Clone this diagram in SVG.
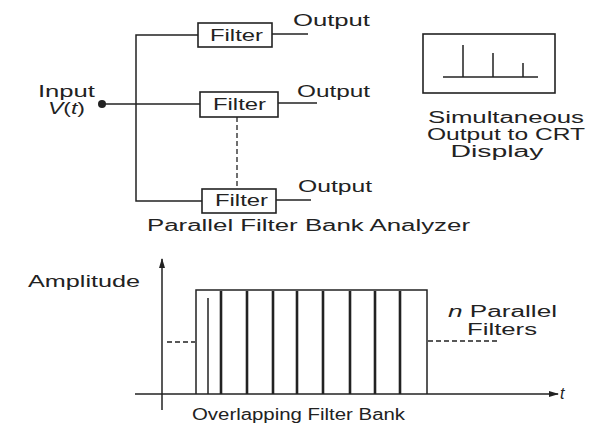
<svg xmlns="http://www.w3.org/2000/svg" width="590" height="425" viewBox="0 0 590 425">
<style>
.ln{stroke:#222;stroke-width:1.5;fill:none}
.bx{stroke:#222;stroke-width:1.6;fill:#fff}
.dash{stroke:#222;stroke-width:1.3;fill:none;stroke-dasharray:5 3}
.tx{font-family:"Liberation Sans",Arial,sans-serif;font-size:16px;fill:#222}
.bar{stroke:#222;stroke-width:2.6;fill:none}
</style>
<defs>
<marker id="ah" markerWidth="10" markerHeight="8" refX="9" refY="4" orient="auto" markerUnits="userSpaceOnUse">
<path d="M0,1 L10,4 L0,7 Z" fill="#222"/>
</marker>
</defs>
<rect width="590" height="425" fill="#fff"/>
<g id="connectors">
<path class="ln" d="M198,35 H136 V201 H202"/>
<path class="ln" d="M102,104 H200"/>
<path class="ln" d="M272,34 H308"/>
<path class="ln" d="M278,103 H317"/>
<path class="ln" d="M276,200 H311"/>
<path class="dash" d="M237,117 V190"/>
</g>
<g id="input">
<circle cx="102" cy="104" r="4" fill="#222"/>
<text class="tx" x="38" y="97" textLength="57" lengthAdjust="spacingAndGlyphs">Input</text>
<text class="tx" x="48" y="114" textLength="37" lengthAdjust="spacingAndGlyphs"><tspan font-style="italic">V</tspan>(<tspan font-style="italic">t</tspan>)</text>
</g>
<g id="filter1">
<rect class="bx" x="198" y="23" width="74" height="24"/>
<text class="tx" x="210" y="41" textLength="53" lengthAdjust="spacingAndGlyphs">Filter</text>
</g>
<g id="filter2">
<rect class="bx" x="200" y="92" width="78" height="25"/>
<text class="tx" x="213" y="110" textLength="53" lengthAdjust="spacingAndGlyphs">Filter</text>
</g>
<g id="filter3">
<rect class="bx" x="202" y="189" width="74" height="24"/>
<text class="tx" x="215" y="206" textLength="53" lengthAdjust="spacingAndGlyphs">Filter</text>
</g>
<g id="output1"><text class="tx" x="293" y="26" textLength="77" lengthAdjust="spacingAndGlyphs">Output</text></g>
<g id="output2"><text class="tx" x="297" y="97" textLength="73" lengthAdjust="spacingAndGlyphs">Output</text></g>
<g id="output3"><text class="tx" x="298" y="192" textLength="74" lengthAdjust="spacingAndGlyphs">Output</text></g>
<g id="caption1"><text class="tx" x="147" y="231" textLength="323" lengthAdjust="spacingAndGlyphs">Parallel Filter Bank Analyzer</text></g>
<g id="display">
<rect class="bx" x="423" y="34" width="132" height="59"/>
<path class="ln" d="M443,77 H538"/>
<path class="ln" stroke-width="2" d="M463,77 V45 M493,77 V53 M523,77 V63"/>
<text class="tx" x="506" y="123" text-anchor="middle" textLength="156" lengthAdjust="spacingAndGlyphs">Simultaneous</text>
<text class="tx" x="506" y="140" text-anchor="middle" textLength="158" lengthAdjust="spacingAndGlyphs">Output to CRT</text>
<text class="tx" x="497" y="157" text-anchor="middle" textLength="93" lengthAdjust="spacingAndGlyphs">Display</text>
</g>
<g id="chart">
<path class="ln" d="M162,410 V259" marker-end="url(#ah)"/>
<path class="ln" d="M135,394 H558" marker-end="url(#ah)"/>
<text class="tx" x="28" y="287" textLength="112" lengthAdjust="spacingAndGlyphs">Amplitude</text>
<text class="tx" x="560" y="399" font-style="italic">t</text>
<path class="ln" d="M196,394 V290 H427 V394"/>
<path class="ln" stroke-width="1.8" d="M208,394 V298"/>
<path class="bar" d="M221,394 V291 M247,394 V291 M273,394 V291 M297,394 V291 M323,394 V291 M350,394 V291 M375,394 V291 M400,394 V291"/>
<path class="dash" d="M167,342 H195"/>
<path class="dash" d="M428,341 H500"/>
<text class="tx" x="448" y="317" textLength="109" lengthAdjust="spacingAndGlyphs"><tspan font-style="italic">n</tspan> Parallel</text>
<text class="tx" x="467" y="335" textLength="70" lengthAdjust="spacingAndGlyphs">Filters</text>
<text class="tx" x="192" y="420" textLength="213" lengthAdjust="spacingAndGlyphs">Overlapping Filter Bank</text>
</g>
</svg>
